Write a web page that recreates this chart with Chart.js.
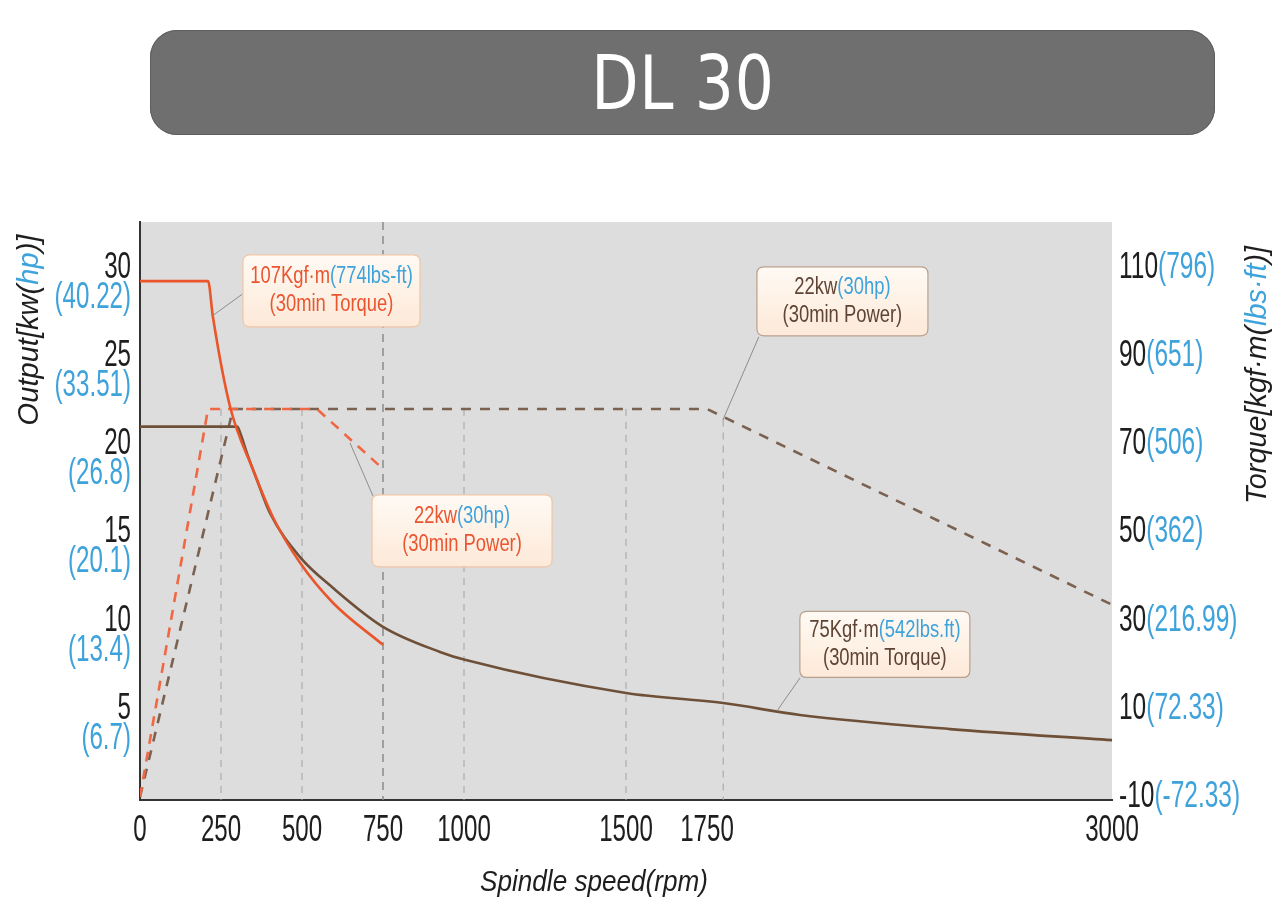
<!DOCTYPE html>
<html>
<head>
<meta charset="utf-8">
<script src="https://cdn.jsdelivr.net/npm/chart.js@4.4.1/dist/chart.umd.min.js"></script>
<style>
  html,body{margin:0;padding:0;background:#fff;}
  #wrap{position:relative;width:1288px;height:918px;overflow:hidden;}
  #c{position:absolute;left:0;top:0;}
  #title{position:absolute;left:150px;top:30px;width:1065px;height:105px;border-radius:27px;
    background:#6f6f6f;color:#fff;display:flex;align-items:center;justify-content:center;
    font-family:'DejaVu Sans',sans-serif;font-size:75px;box-shadow:inset 0 0 0 1px #5f5f5f;}
  #title span{display:inline-block;transform:scaleX(0.82);letter-spacing:1px;}
</style>
</head>
<body>
<div id="wrap">
  <canvas id="c" width="1288" height="918"></canvas>
  <div id="title"><span>DL 30</span></div>
</div>
<script>
// ---- data ----
const rpmTorqueA = [0, 210, 225, 278, 349, 410, 494, 596, 750];
const torqueA    = [107, 107, 98.9, 78.5, 64.2, 53.5, 43.1, 34.0, 24.5];

const rpmTorqueB = [0, 300, 309, 330, 361, 401, 494, 596, 750, 926, 1003, 1500, 1800, 2037, 2500, 3000];
const torqueB    = [74, 74, 72.6, 68, 61.9, 54.4, 44.4, 37.4, 28.6, 22.9, 21.1, 13.6, 11.3, 8.6, 5.4, 2.9];

const rpmPowerA = [0, 210, 546, 750];
const powerA    = [0, 22, 22, 18.6];

const rpmPowerB = [0, 287, 1750, 3000];
const powerB    = [0, 22, 22, 10.9];

const refRpm = [250, 500, 750, 1000, 1500, 1800];
const refTop = [22, 22, 32.6, 22, 22, 21.4];

const xTicks = [0, 250, 500, 750, 1000, 1500, 1750, 3000];
const kwTicks = [30, 25, 20, 15, 10, 5];
const kwLabels = ['30', '25', '20', '15', '10', '5'];
const hpLabels = ['(40.22)', '(33.51)', '(26.8)', '(20.1)', '(13.4)', '(6.7)'];
const tqTicks = [110, 90, 70, 50, 30, 10, -10];
const tqLabels = ['110', '90', '70', '50', '30', '10', '-10'];
const lbsLabels = ['(796)', '(651)', '(506)', '(362)', '(216.99)', '(72.33)', '(-72.33)'];

const kwMin = -0.17, kwMax = 32.6;
const tqMin = kwMin * 4 - 10, tqMax = kwMax * 4 - 10;

// ---- styles ----
const ORANGE = '#e9562b', BROWN = '#6e5038', ORANGE_D = '#ef6843', BROWN_D = '#7a6150';
const BLUE = '#3ea2db', DARK = '#1e1e1e', TXT_OR = '#ea5530', TXT_BR = '#5e4434';
const FONT = "'Liberation Sans', Arial, sans-serif";

const boxes = [
  {cx: 591, cy: 28.7, w: 177, h: 72, border: '#efc6a6',
   lines: [[{t:'107Kgf·m', c:TXT_OR}, {t:'(774lbs-ft)', c:BLUE}], [{t:'(30min Torque)', c:TXT_OR}]],
   lead: [[225, 27.3], [315, 28.5]]},
  {cx: 994, cy: 15.09, w: 180, h: 72, border: '#efc6a6',
   lines: [[{t:'22kw', c:TXT_OR}, {t:'(30hp)', c:BLUE}], [{t:'(30min Power)', c:TXT_OR}]],
   lead: [[648, 20.08], [719, 17.07]]},
  {cx: 2168, cy: 28.1, w: 171, h: 69, border: '#b9a08d',
   lines: [[{t:'22kw', c:TXT_BR}, {t:'(30hp)', c:BLUE}], [{t:'(30min Power)', c:TXT_BR}]],
   lead: [[1799, 21.38], [1910, 26.09]]},
  {cx: 2299, cy: 8.65, w: 170, h: 66, border: '#b9a08d',
   lines: [[{t:'75Kgf·m', c:TXT_BR}, {t:'(542lbs.ft)', c:BLUE}], [{t:'(30min Torque)', c:TXT_BR}]],
   lead: [[1966, 4.88], [2037, 6.75]]},
];

function drawParts(ctx, parts, x, y, align, size, sx, style) {
  ctx.save();
  ctx.font = (style || '') + ' ' + size + 'px ' + FONT;
  ctx.textBaseline = 'middle';
  ctx.textAlign = 'left';
  const widths = parts.map(p => ctx.measureText(p.t).width);
  const total = widths.reduce((a, b) => a + b, 0) * sx;
  const start = align === 'right' ? x - total : align === 'center' ? x - total / 2 : x;
  ctx.translate(start, y);
  ctx.scale(sx, 1);
  let cx = 0;
  parts.forEach((p, i) => { ctx.fillStyle = p.c; ctx.fillText(p.t, cx, 0); cx += widths[i]; });
  ctx.restore();
}

function roundRect(ctx, x, y, w, h, r) {
  ctx.beginPath();
  ctx.moveTo(x + r, y);
  ctx.lineTo(x + w - r, y); ctx.quadraticCurveTo(x + w, y, x + w, y + r);
  ctx.lineTo(x + w, y + h - r); ctx.quadraticCurveTo(x + w, y + h, x + w - r, y + h);
  ctx.lineTo(x + r, y + h); ctx.quadraticCurveTo(x, y + h, x, y + h - r);
  ctx.lineTo(x, y + r); ctx.quadraticCurveTo(x, y, x + r, y);
  ctx.closePath();
}

const decor = {
  id: 'decor',
  beforeDraw(chart) {
    const {ctx, chartArea: a} = chart;
    ctx.save();
    ctx.fillStyle = '#dddddd';
    ctx.fillRect(a.left, a.top, a.right - a.left, a.bottom - a.top);
    ctx.restore();
  },
  afterDraw(chart) {
    const {ctx, scales} = chart;
    const xs = scales.x, ys = scales.y, y2 = scales.y2;
    // leader lines + boxes
    boxes.forEach(b => {
      ctx.save();
      ctx.strokeStyle = '#8d8d8d'; ctx.lineWidth = 1;
      ctx.beginPath();
      ctx.moveTo(xs.getPixelForValue(b.lead[0][0]), ys.getPixelForValue(b.lead[0][1]));
      ctx.lineTo(xs.getPixelForValue(b.lead[1][0]), ys.getPixelForValue(b.lead[1][1]));
      ctx.stroke();
      const cx = xs.getPixelForValue(b.cx), cy = ys.getPixelForValue(b.cy);
      const x0 = cx - b.w / 2, y0 = cy - b.h / 2;
      const g = ctx.createLinearGradient(0, y0, 0, y0 + b.h);
      g.addColorStop(0, '#fffaf4'); g.addColorStop(1, '#fde9d8');
      roundRect(ctx, x0, y0, b.w, b.h, 7);
      ctx.fillStyle = g; ctx.fill();
      ctx.strokeStyle = b.border; ctx.lineWidth = 1.2; ctx.stroke();
      ctx.restore();
      drawParts(ctx, b.lines[0], cx, cy - 14, 'center', 23, 0.8);
      drawParts(ctx, b.lines[1], cx, cy + 14, 'center', 23, 0.8);
    });
    // x tick labels
    xs.ticks.forEach(t => {
      drawParts(ctx, [{t: String(t.value), c: DARK}], xs.getPixelForValue(t.value), 831, 'center', 36, 0.67);
    });
    // left tick labels
    ys.ticks.forEach((t, i) => {
      const py = ys.getPixelForValue(t.value);
      drawParts(ctx, [{t: kwLabels[i], c: DARK}], 131, py, 'right', 36, 0.67);
      drawParts(ctx, [{t: hpLabels[i], c: BLUE}], 131, py + 30, 'right', 36, 0.67);
    });
    // right tick labels
    y2.ticks.forEach((t, i) => {
      const py = y2.getPixelForValue(t.value);
      drawParts(ctx, [{t: tqLabels[i], c: DARK}, {t: lbsLabels[i], c: BLUE}], 1119, py, 'left', 36, 0.68);
    });
    // axis titles
    ctx.save();
    ctx.translate(30, 330); ctx.rotate(-Math.PI / 2);
    drawParts(ctx, [{t:'Output[kw(', c:DARK}, {t:'hp', c:BLUE}, {t:')]', c:DARK}], 0, 0, 'center', 30, 0.97, 'italic');
    ctx.restore();
    ctx.save();
    ctx.translate(1258, 375); ctx.rotate(-Math.PI / 2);
    drawParts(ctx, [{t:'Torque[kgf·m(', c:DARK}, {t:'lbs·ft', c:BLUE}, {t:')]', c:DARK}], 0, 0, 'center', 30, 0.96, 'italic');
    ctx.restore();
    drawParts(ctx, [{t:'Spindle speed(rpm)', c:DARK}], 594, 883, 'center', 30, 0.87, 'italic');
  }
};

const pts = (xs, ys) => xs.map((x, i) => ({x, y: ys[i]}));

const refSets = refRpm.map((r, i) => ({
  label: 'ref' + r,
  data: [{x: r, y: refTop[i]}, {x: r, y: kwMin}],
  yAxisID: 'y',
  borderColor: r === 750 ? '#8a8a8a' : '#a3a3a3',
  borderWidth: r === 750 ? 1.5 : 1,
  borderDash: r === 750 ? [8, 6] : [7, 6],
  pointRadius: 0,
  order: 10
}));

new Chart(document.getElementById('c'), {
  type: 'line',
  data: {
    datasets: [
      ...refSets,
      {label: 'Power B', data: pts(rpmPowerB, powerB), yAxisID: 'y', borderColor: BROWN_D,
       borderWidth: 2.6, borderDash: [10, 9], pointRadius: 0, tension: 0, order: 5},
      {label: 'Power A', data: pts(rpmPowerA, powerA), yAxisID: 'y', borderColor: ORANGE_D,
       borderWidth: 2.6, borderDash: [10, 8], pointRadius: 0, tension: 0, order: 4},
      {label: 'Torque B', data: pts(rpmTorqueB, torqueB), yAxisID: 'y2', borderColor: BROWN,
       borderWidth: 2.6, pointRadius: 0, cubicInterpolationMode: 'monotone', order: 2},
      {label: 'Torque A', data: pts(rpmTorqueA, torqueA), yAxisID: 'y2', borderColor: ORANGE,
       borderWidth: 2.6, pointRadius: 0, cubicInterpolationMode: 'monotone', order: 1}
    ]
  },
  options: {
    responsive: false,
    animation: false,
    events: [],
    layout: {padding: {left: 140, right: 176, top: 222, bottom: 118}},
    plugins: {legend: {display: false}, tooltip: {enabled: false}},
    scales: {
      x: {type: 'linear', position: 'bottom', min: 0, max: 3000,
          grid: {display: false}, ticks: {display: false},
          border: {display: true, color: '#333', width: 2},
          afterBuildTicks: s => { s.ticks = xTicks.map(v => ({value: v})); },
          afterFit: s => { s.height = 0; }},
      y: {type: 'linear', position: 'left', min: kwMin, max: kwMax,
          grid: {display: false}, ticks: {display: false},
          border: {display: true, color: '#333', width: 2},
          afterBuildTicks: s => { s.ticks = kwTicks.map(v => ({value: v})); },
          afterFit: s => { s.width = 0; }},
      y2: {type: 'linear', position: 'right', min: tqMin, max: tqMax,
          grid: {display: false}, ticks: {display: false},
          border: {display: false},
          afterBuildTicks: s => { s.ticks = tqTicks.map(v => ({value: v})); },
          afterFit: s => { s.width = 0; }}
    }
  },
  plugins: [decor]
});
</script>
</body>
</html>
